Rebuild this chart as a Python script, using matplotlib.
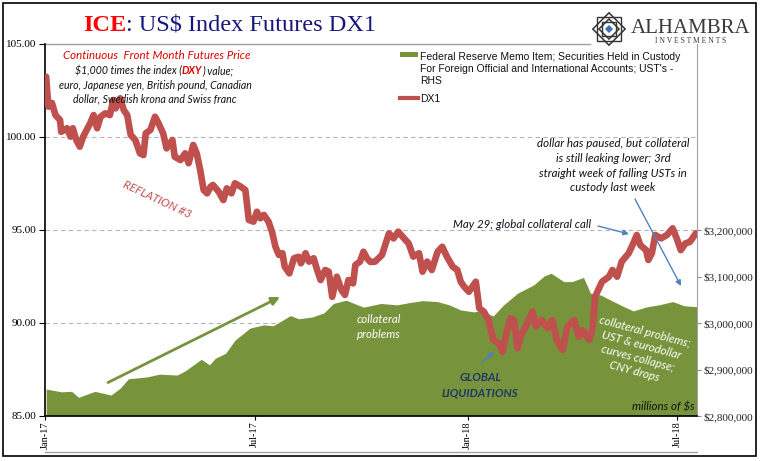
import matplotlib
matplotlib.use('Agg')
import matplotlib.pyplot as plt
import matplotlib.dates as mdates
from matplotlib.lines import Line2D
from matplotlib.patches import Rectangle, Polygon
from matplotlib.ticker import FuncFormatter
import pandas as pd

W, H = 769, 461
RED = '#C0504D'
GREEN = '#77933C'
BLUE = '#4F81BD'
NAVY = '#1F3864'

plt.rcParams['font.family'] = ['Liberation Serif', 'DejaVu Serif']

# DX1 continuous front month
dx_dates = [
    '2017-01-02', '2017-01-03', '2017-01-04', '2017-01-07', '2017-01-10', '2017-01-14',
    '2017-01-15', '2017-01-20', '2017-01-23', '2017-01-25', '2017-01-28', '2017-01-31',
    '2017-02-03', '2017-02-06', '2017-02-09', '2017-02-12', '2017-02-15', '2017-02-18',
    '2017-02-22', '2017-02-26', '2017-03-01', '2017-03-03', '2017-03-07', '2017-03-10',
    '2017-03-13', '2017-03-16', '2017-03-20', '2017-03-24', '2017-03-27', '2017-03-29',
    '2017-04-02', '2017-04-06', '2017-04-09', '2017-04-13', '2017-04-16', '2017-04-21',
    '2017-04-23', '2017-04-28', '2017-05-02', '2017-05-05', '2017-05-09', '2017-05-12',
    '2017-05-15', '2017-05-18', '2017-05-21', '2017-05-24', '2017-05-26', '2017-05-31',
    '2017-06-04', '2017-06-07', '2017-06-11', '2017-06-14', '2017-06-19', '2017-06-23',
    '2017-06-26', '2017-06-30', '2017-07-03', '2017-07-06', '2017-07-09', '2017-07-13',
    '2017-07-16', '2017-07-19', '2017-07-22', '2017-07-25', '2017-07-27', '2017-07-31',
    '2017-08-04', '2017-08-08', '2017-08-10', '2017-08-14', '2017-08-17', '2017-08-21',
    '2017-08-24', '2017-08-27', '2017-08-31', '2017-09-03', '2017-09-06', '2017-09-10',
    '2017-09-14', '2017-09-17', '2017-09-20', '2017-09-24', '2017-09-26', '2017-09-30',
    '2017-10-03', '2017-10-06', '2017-10-09', '2017-10-13', '2017-10-19', '2017-10-25',
    '2017-10-29', '2017-11-02', '2017-11-07', '2017-11-11', '2017-11-15', '2017-11-20',
    '2017-11-23', '2017-11-27', '2017-12-01', '2017-12-06', '2017-12-10', '2017-12-14',
    '2017-12-19', '2017-12-23', '2017-12-26', '2017-12-29', '2018-01-02', '2018-01-08',
    '2018-01-11', '2018-01-15', '2018-01-19', '2018-01-23', '2018-01-28', '2018-01-31',
    '2018-02-03', '2018-02-07', '2018-02-10', '2018-02-13', '2018-02-16', '2018-02-20',
    '2018-02-26', '2018-03-01', '2018-03-06', '2018-03-11', '2018-03-15', '2018-03-19',
    '2018-03-24', '2018-03-28', '2018-04-03', '2018-04-07', '2018-04-10', '2018-04-16',
    '2018-04-19', '2018-04-21', '2018-04-27', '2018-05-03', '2018-05-06', '2018-05-10',
    '2018-05-14', '2018-05-20', '2018-05-24', '2018-05-27', '2018-05-30', '2018-06-04',
    '2018-06-06', '2018-06-09', '2018-06-12', '2018-06-17', '2018-06-22', '2018-06-27',
    '2018-07-01', '2018-07-04', '2018-07-08', '2018-07-12', '2018-07-17',
]
dx_values = [
    103.24, 102.35, 101.63, 101.83, 101.18, 100.91,
    100.28, 100.47, 100.02, 100.47, 99.84, 99.48,
    100.02, 100.38, 100.74, 101.18, 100.47, 101.09,
    101.27, 101.18, 101.99, 101.54, 102.08, 101.45,
    101.18, 100.11, 99.84, 99.12, 99.03, 100.20,
    100.38, 101.09, 100.74, 100.20, 99.39, 99.84,
    98.94, 98.76, 99.12, 98.59, 99.57, 99.12,
    98.23, 97.15, 96.97, 97.33, 97.42, 97.06,
    96.61, 97.24, 96.97, 97.51, 97.33, 97.15,
    95.54, 95.45, 95.98, 95.63, 95.81, 95.45,
    94.91, 94.10, 93.66, 93.75, 93.03, 92.67,
    93.48, 93.56, 93.21, 93.75, 93.30, 93.48,
    92.85, 92.31, 92.85, 92.76, 91.41, 92.49,
    91.77, 91.51, 92.31, 92.13, 93.12, 93.30,
    93.83, 93.48, 93.28, 93.30, 93.66, 94.82,
    94.55, 94.91, 94.55, 94.28, 93.57, 93.75,
    92.76, 93.30, 92.85, 93.83, 94.10, 93.57,
    93.03, 92.85, 92.22, 91.95, 91.68, 92.22,
    90.79, 90.61, 90.16, 89.09, 88.91, 88.46,
    89.35, 90.25, 90.16, 88.64, 89.35, 89.80,
    90.61, 89.80, 90.16, 89.72, 90.16, 89.09,
    88.55, 89.80, 90.16, 89.26, 89.62, 89.09,
    89.80, 91.41, 92.22, 92.49, 92.85, 92.49,
    93.30, 93.75, 94.28, 94.73, 94.19, 93.92,
    93.39, 93.75, 94.73, 94.55, 94.73, 95.09,
    94.46, 93.92, 94.28, 94.37, 94.82,
]

# Fed memo item: custody holdings of USTs (millions of $)
custody_dates = [
    '2017-01-02', '2017-01-15', '2017-01-24', '2017-01-30', '2017-02-13', '2017-02-27',
    '2017-03-07', '2017-03-14', '2017-03-30', '2017-04-10', '2017-04-25', '2017-05-02',
    '2017-05-16', '2017-05-23', '2017-05-28', '2017-06-06', '2017-06-14', '2017-06-27',
    '2017-07-09', '2017-07-17', '2017-08-01', '2017-08-08', '2017-08-20', '2017-08-30',
    '2017-09-07', '2017-09-18', '2017-10-03', '2017-10-18', '2017-11-01', '2017-11-12',
    '2017-11-23', '2017-12-06', '2017-12-16', '2017-12-26', '2018-01-06', '2018-01-13',
    '2018-01-23', '2018-02-01', '2018-02-13', '2018-02-27', '2018-03-08', '2018-03-14',
    '2018-03-25', '2018-04-01', '2018-04-11', '2018-04-17', '2018-04-26', '2018-05-07',
    '2018-05-16', '2018-05-24', '2018-06-05', '2018-06-15', '2018-06-27', '2018-07-07',
    '2018-07-18',
]
custody_values = [
    2858000, 2852000, 2853000, 2840000, 2853000, 2845000,
    2860000, 2880000, 2884000, 2890000, 2888000, 2897000,
    2922000, 2910000, 2924000, 2935000, 2963000, 2989000,
    2996000, 2994000, 3016000, 3009000, 3013000, 3022000,
    3042000, 3049000, 3034000, 3042000, 3039000, 3044000,
    3048000, 3046000, 3039000, 3028000, 3024000, 3026000,
    3015000, 3039000, 3064000, 3082000, 3101000, 3107000,
    3089000, 3089000, 3098000, 3064000, 3060000, 3046000,
    3035000, 3026000, 3035000, 3039000, 3046000, 3037000,
    3035000,
]

left_ticks = [85, 90, 95, 100, 105]
right_ticks = [2800000, 2900000, 3000000, 3100000, 3200000]
grid_levels = [3000000, 3200000, 3400000]
x_ticks = ['2017-01-01', '2017-07-01', '2018-01-01', '2018-07-01']
x_range = ['2017-01-01', '2018-07-18']


def px(x, y):
    return (x / W, 1 - y / H)


fig = plt.figure(figsize=(W / 100, H / 100), dpi=100)
ax = fig.add_axes([45 / W, 1 - 416 / H, (697 - 45) / W, (416 - 44) / H])
ax2 = ax.twinx()
ax.set_zorder(ax2.get_zorder() + 1)
ax.patch.set_visible(False)

# green area on the right axis, grid behind it
cd = pd.to_datetime(custody_dates)
ax2.fill_between(cd, custody_values, 2800000, color=GREEN, lw=0, zorder=2)
for g in grid_levels:
    ax2.axhline(g, color='#B4B4B4', lw=0.8, ls=(0, (4, 3)), zorder=1)
ax2.set_ylim(2800000, 3600000)
ax2.set_yticks(right_ticks)
ax2.yaxis.set_major_formatter(FuncFormatter(lambda v, p: '${:,.0f}'.format(v)))
ax2.tick_params(axis='y', direction='out', length=3, width=0.8, labelsize=8, pad=2,
                color='#888888', labelcolor='#222222')
for s in ['left', 'top', 'bottom']:
    ax2.spines[s].set_visible(False)
ax2.spines['right'].set_color('#A0A0A0')

# DX1 line
ax.plot(pd.to_datetime(dx_dates), dx_values, color=RED, lw=4.8,
        solid_joinstyle='round', solid_capstyle='round', zorder=3)
ax.set_ylim(85, 105)
ax.set_yticks(left_ticks)
ax.yaxis.set_major_formatter(FuncFormatter(lambda v, p: f'{v:.2f}'))
ax.set_xlim(pd.Timestamp(x_range[0]), pd.Timestamp(x_range[1]))
ax.set_xticks(pd.to_datetime(x_ticks))
ax.xaxis.set_major_formatter(mdates.DateFormatter('%b-%y'))
ax.tick_params(axis='y', direction='out', length=4, width=0.8, labelsize=8, pad=2)
ax.tick_params(axis='x', direction='out', length=3, width=0.8, labelsize=7.5, pad=1,
               labelrotation=90)
ax.spines['top'].set_visible(False)
ax.spines['right'].set_visible(False)
ax.spines['left'].set_linewidth(1.2)
ax.spines['bottom'].set_linewidth(1.2)
ax.add_line(Line2D([0, 0.836], [1, 1], transform=ax.transAxes, color='#A0A0A0',
                   lw=1, clip_on=False))

# frame lines
fig.add_artist(Rectangle(px(3, 456), 753 / W, 453 / H, transform=fig.transFigure,
                         fill=False, ec='black', lw=1.2))
fig.add_artist(Line2D([45 / W, 697 / W], [1 - 452 / H] * 2, transform=fig.transFigure,
                      color='#A0A0A0', lw=1))

# title
t1 = fig.text(*px(83, 31), 'ICE', color='#FF0000', fontsize=17.5, weight='bold',
              va='baseline')
ax.annotate(': US$ Index Futures DX1', xy=(1, 0), xycoords=t1, va='bottom', ha='left',
            color='#16167F', fontsize=17.5, annotation_clip=False)

# logo
lax = fig.add_axes([592 / W, 1 - 46 / H, 34 / W, 34 / H])
lax.set_xlim(-1.05, 1.05)
lax.set_ylim(-1.05, 1.05)
lax.axis('off')
for r in [1.0, 0.62]:
    lax.add_patch(Polygon([(0, r), (r, 0), (0, -r), (-r, 0)], closed=True, fill=False,
                          ec='#333333', lw=1.1))
for r in [0.72, 0.45]:
    lax.add_patch(Polygon([(-r, -r), (r, -r), (r, r), (-r, r)], closed=True, fill=False,
                          ec='#333333', lw=1.0))
lax.add_patch(Polygon([(0, 0.25), (0.25, 0), (0, -0.25), (-0.25, 0)], closed=True,
                      fc='#3F6FB5', ec='none'))
fig.text(*px(631, 33), 'ALHAMBRA', fontsize=15, color='#3A3A3A', va='baseline')
fig.text(*px(655, 43), 'I N V E S T M E N T S', fontsize=5.5, color='#3A3A3A',
         va='baseline')

# legend
LEG = dict(family=['Liberation Sans', 'DejaVu Sans'], fontsize=7.5, color='#111111',
           va='baseline')
fig.add_artist(Rectangle(px(400, 57), 18 / W, 5 / H, transform=fig.transFigure,
                         fc=GREEN, ec='none'))
fig.text(*px(420, 60), 'Federal Reserve Memo Item; Securities Held in Custody', **LEG)
fig.text(*px(420, 72), "For Foreign Official and International Accounts; UST's -", **LEG)
fig.text(*px(420, 84), 'RHS', **LEG)
fig.add_artist(Line2D([400 / W, 418 / W], [1 - 98.5 / H] * 2, transform=fig.transFigure,
                      color=RED, lw=3))
fig.text(*px(420, 102), 'DX1', **LEG)

# annotations
NOTE = dict(family=['Lato', 'DejaVu Sans'], style='italic', fontsize=8.3)
SUB = dict(NOTE, fontsize=7.6)
fig.text(*px(157, 59), 'Continuous  Front Month Futures Price', color='#E00000',
         ha='center', va='baseline', **NOTE)
s1 = fig.text(*px(75, 74), '$1,000 times the index (', color='#111111', ha='left',
              va='baseline', **SUB)
s2 = ax.annotate('DXY', xy=(1, 0), xycoords=s1, va='bottom', ha='left', color='#E00000',
                 weight='bold', annotation_clip=False, **SUB)
ax.annotate(') value;', xy=(1, 0), xycoords=s2, va='bottom', ha='left', color='#111111',
            annotation_clip=False, **SUB)
fig.text(*px(155, 89), 'euro, Japanese yen, British pound, Canadian', color='#111111',
         ha='center', va='baseline', **SUB)
fig.text(*px(155, 102), 'dollar, Swedish krona and Swiss franc', color='#111111',
         ha='center', va='baseline', **SUB)

fig.text(*px(157, 199), 'REFLATION #3', color=RED, ha='center', va='center',
         rotation=-25, rotation_mode='anchor', **NOTE)

ax.annotate('', xy=px(280, 297), xycoords='figure fraction', xytext=px(108, 382.5),
            textcoords='figure fraction',
            arrowprops=dict(arrowstyle='-|>', color=GREEN, lw=2, mutation_scale=12,
                            shrinkA=0, shrinkB=0))

fig.text(*px(379, 323), 'collateral', color='white', ha='center', va='baseline', **NOTE)
fig.text(*px(379, 338), 'problems', color='white', ha='center', va='baseline', **NOTE)

fig.text(*px(480, 381), 'GLOBAL', color=NAVY, ha='center', va='baseline', weight='bold',
         **NOTE)
fig.text(*px(480, 396), 'LIQUIDATIONS', color=NAVY, ha='center', va='baseline',
         weight='bold', **NOTE)
ax.annotate('', xy=px(494, 351.5), xycoords='figure fraction', xytext=px(481.5, 363),
            textcoords='figure fraction',
            arrowprops=dict(arrowstyle='-|>', color=BLUE, lw=1, mutation_scale=8,
                            shrinkA=0, shrinkB=0))

fig.text(*px(640, 352), 'collateral problems;\nUST & eurodollar\ncurves collapse;\nCNY drops',
         color='white', ha='center', va='center', multialignment='center', rotation=-15,
         rotation_mode='anchor', linespacing=1.3, **NOTE)

fig.text(*px(695, 410), 'millions of $s', color='#111111', ha='right', va='baseline',
         **NOTE)

fig.text(*px(522, 228), 'May 29; global collateral call', color='#111122', ha='center',
         va='baseline', **NOTE)
ax.annotate('', xy=px(629, 234), xycoords='figure fraction', xytext=px(598, 226),
            textcoords='figure fraction',
            arrowprops=dict(arrowstyle='-|>', color=BLUE, lw=1, mutation_scale=8,
                            shrinkA=0, shrinkB=0))

for yy, line in zip([147, 162, 177, 191],
                    ['dollar has paused, but collateral', 'is still leaking lower; 3rd',
                     'straight week of falling USTs in', 'custody last week']):
    fig.text(*px(613, yy), line, color='#111111', ha='center', va='baseline', **NOTE)
ax.annotate('', xy=px(681, 286), xycoords='figure fraction', xytext=px(635, 199),
            textcoords='figure fraction',
            arrowprops=dict(arrowstyle='-|>', color=BLUE, lw=1, mutation_scale=8,
                            shrinkA=0, shrinkB=0))

fig.savefig('out.png', dpi=100)
